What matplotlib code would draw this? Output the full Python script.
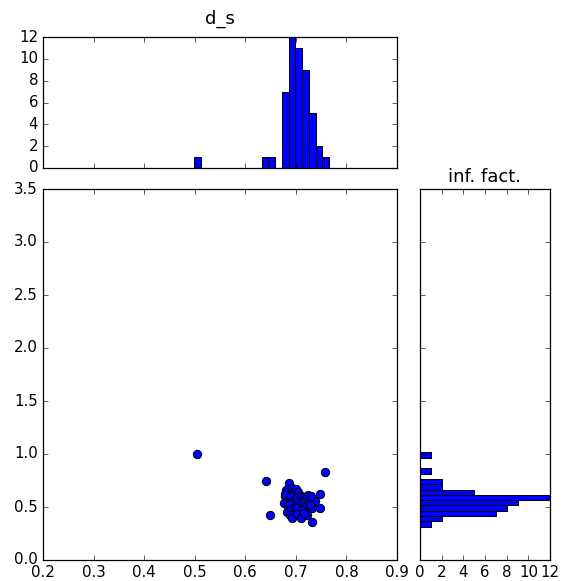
import numpy as np
import matplotlib
matplotlib.use("Agg")
import matplotlib.pyplot as plt

plt.style.use("classic")
plt.rcParams["font.family"] = ["DejaVu Sans"]
plt.rcParams["figure.facecolor"] = "white"
plt.rcParams["savefig.facecolor"] = "white"

# scatter data (d_s, inf. fact.)
d_s = [0.505, 0.6407, 0.6486, 0.7586,
       0.6805, 0.678, 0.682, 0.676, 0.684, 0.6825, 0.679,
       0.687, 0.693, 0.689, 0.695, 0.691, 0.697, 0.688, 0.694, 0.690, 0.696, 0.688, 0.692,
       0.700, 0.705, 0.708, 0.702, 0.710, 0.704, 0.709, 0.701, 0.711, 0.703, 0.711,
       0.7245, 0.716, 0.720, 0.7155, 0.722, 0.718, 0.714, 0.722, 0.716,
       0.737, 0.732, 0.732, 0.730, 0.728,
       0.748, 0.748]
inf_fact = [1.0, 0.744, 0.423, 0.831,
            0.659, 0.600, 0.575, 0.540, 0.505, 0.454, 0.620,
            0.722, 0.683, 0.580, 0.630, 0.600, 0.555, 0.530, 0.495, 0.470, 0.440, 0.425, 0.395,
            0.669, 0.640, 0.600, 0.585, 0.570, 0.545, 0.520, 0.490, 0.608, 0.430, 0.400,
            0.612, 0.590, 0.575, 0.549, 0.530, 0.500, 0.475, 0.423, 0.445,
            0.555, 0.492, 0.355, 0.600, 0.520,
            0.618, 0.492]

# histogram bin edges
x_bin_start, x_bin_width, x_nbins = 0.298, 0.01337, 41
y_bin_start, y_bin_width, y_nbins = 0.315, 0.05, 57
x_bins = x_bin_start + x_bin_width * np.arange(x_nbins + 1)
y_bins = y_bin_start + y_bin_width * np.arange(y_nbins + 1)

DPI = 90
W, H = 562, 581
fig = plt.figure(figsize=(W / DPI, H / DPI), dpi=DPI)

ax = fig.add_axes([43 / W, 21 / H, 354 / W, 371 / H])
axx = fig.add_axes([43 / W, (H - 168) / H, 354 / W, 131 / H], sharex=ax)
axy = fig.add_axes([420 / W, 21 / H, 130 / W, 371 / H], sharey=ax)

ax.scatter(d_s, inf_fact, s=44, c="b", edgecolors="k", linewidths=0.8, zorder=3)
ax.set_xlim(0.2, 0.9)
ax.set_ylim(0.0, 3.5)
ax.set_xticks(np.arange(0.2, 0.91, 0.1))
ax.set_yticks(np.arange(0.0, 3.51, 0.5))

axx.hist(d_s, bins=x_bins, color="b", edgecolor="k", linewidth=0.8)
axx.set_ylim(0, 12)
axx.set_yticks(np.arange(0, 13, 2))
axx.set_title("d_s", pad=10.4)
plt.setp(axx.get_xticklabels(), visible=False)

axy.hist(inf_fact, bins=y_bins, orientation="horizontal", color="b",
         edgecolor="k", linewidth=0.8)
axy.set_xlim(0, 12)
axy.set_xticks(np.arange(0, 13, 2))
axy.set_title("inf. fact.", pad=5.4)
plt.setp(axy.get_yticklabels(), visible=False)

fig.savefig("out.png", dpi=DPI)
